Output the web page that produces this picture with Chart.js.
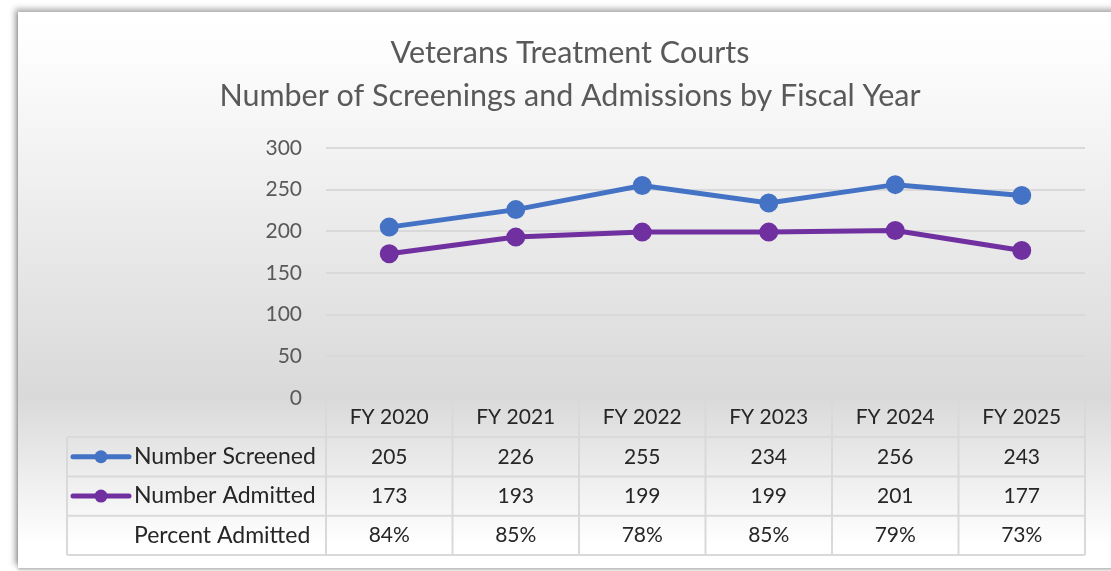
<!DOCTYPE html>
<html>
<head>
<meta charset="utf-8">
<script src="https://cdn.jsdelivr.net/npm/chart.js@4.4.1/dist/chart.umd.min.js"></script>
<style>
  html, body { margin: 0; padding: 0; background: #ffffff; overflow: hidden; }
  body { width: 1111px; height: 571px; position: relative; }
  #frame {
    position: absolute; left: 18px; top: 12px; width: 1110px; height: 556px;
    box-shadow: -3px -3px 6px rgba(0,0,0,0.35), 0 2px 3px rgba(0,0,0,0.25);
  }
  canvas { display: block; }
</style>
</head>
<body>
<div id="frame"><canvas id="chart" width="1110" height="556"></canvas></div>
<script>
// fiscal years along the x axis
const categories = ['FY 2020', 'FY 2021', 'FY 2022', 'FY 2023', 'FY 2024', 'FY 2025'];
const screened = [205, 226, 255, 234, 256, 243];
const admitted = [173, 193, 199, 199, 201, 177];
const percentAdmitted = [84, 85, 78, 85, 79, 73];
const yTicks = [0, 50, 100, 150, 200, 250, 300];

const FONT = 'Lato, "Open Sans", sans-serif';
const BLUE = '#4472C4';
const PURPLE = '#7030A0';
const GRID = '#d9d9d9';

// gradient background of the chart box
const backgroundPlugin = {
  id: 'bg',
  beforeDraw(chart) {
    const ctx = chart.ctx;
    const h = chart.height;
    const g = ctx.createLinearGradient(0, 0, 0, h);
    g.addColorStop(0, '#ffffff');
    g.addColorStop(0.07, '#fdfdfd');
    g.addColorStop(0.69, '#d9d9d9');
    g.addColorStop(0.96, '#ffffff');
    g.addColorStop(1, '#ffffff');
    ctx.save();
    ctx.fillStyle = g;
    ctx.fillRect(0, 0, chart.width, h);
    ctx.restore();
  }
};

// data table under the plot (Excel style)
const dataTablePlugin = {
  id: 'dataTable',
  afterDraw(chart) {
    const ctx = chart.ctx;
    const x = chart.scales.x;
    const area = chart.chartArea;
    const colW = (area.right - area.left) / categories.length;
    const rowH = 39.3;
    const top = area.bottom;
    const legendLeft = 49;
    const rows = [
      { label: 'Number Screened', color: BLUE, values: screened.map(String) },
      { label: 'Number Admitted', color: PURPLE, values: admitted.map(String) },
      { label: 'Percent Admitted', color: null, values: percentAdmitted.map(v => v + '%') }
    ];

    ctx.save();
    ctx.strokeStyle = GRID;
    ctx.lineWidth = 2;

    // vertical lines of header row + body
    for (let i = 0; i <= categories.length; i++) {
      const xx = area.left + i * colW;
      ctx.beginPath();
      ctx.moveTo(xx, top + 2);
      ctx.lineTo(xx, top + rowH * 4);
      ctx.stroke();
    }
    // horizontal lines of body
    for (let r = 1; r <= 4; r++) {
      const yy = top + rowH * r;
      ctx.beginPath();
      ctx.moveTo(legendLeft, yy);
      ctx.lineTo(area.right, yy);
      ctx.stroke();
    }
    ctx.beginPath();
    ctx.moveTo(legendLeft, top + rowH);
    ctx.lineTo(legendLeft, top + rowH * 4);
    ctx.stroke();

    ctx.textBaseline = 'middle';
    rows.forEach((row, r) => {
      const cy = top + rowH * (r + 1.5);
      if (row.color) {
        ctx.strokeStyle = row.color;
        ctx.fillStyle = row.color;
        ctx.lineWidth = 5;
        ctx.lineCap = 'round';
        ctx.beginPath();
        ctx.moveTo(legendLeft + 6, cy);
        ctx.lineTo(legendLeft + 62, cy);
        ctx.stroke();
        ctx.beginPath();
        ctx.arc(legendLeft + 34, cy, 6.5, 0, Math.PI * 2);
        ctx.fill();
      }
      ctx.fillStyle = '#262626';
      ctx.textAlign = 'left';
      ctx.font = '23px ' + FONT;
      ctx.fillText(row.label, legendLeft + 67, cy);
      ctx.textAlign = 'center';
      ctx.font = '21px ' + FONT;
      row.values.forEach((v, i) => {
        ctx.fillText(v, x.getPixelForValue(i), cy);
      });
    });
    ctx.restore();
  }
};

new Chart(document.getElementById('chart'), {
  type: 'line',
  data: {
    labels: categories,
    datasets: [
      {
        label: 'Number Screened',
        data: screened,
        borderColor: BLUE,
        backgroundColor: BLUE,
        borderWidth: 5,
        pointRadius: 7,
        pointHoverRadius: 7,
        tension: 0
      },
      {
        label: 'Number Admitted',
        data: admitted,
        borderColor: PURPLE,
        backgroundColor: PURPLE,
        borderWidth: 5,
        pointRadius: 7,
        pointHoverRadius: 7,
        tension: 0
      }
    ]
  },
  options: {
    responsive: false,
    animation: false,
    layout: { padding: { left: 0, right: 6, top: 0, bottom: 131 } },
    plugins: {
      legend: { display: false },
      tooltip: { enabled: false },
      title: {
        display: true,
        text: ['Veterans Treatment Courts', 'Number of Screenings and Admissions by Fiscal Year'],
        color: '#595959',
        font: { family: FONT, size: 30.5, weight: 'normal', lineHeight: 1.41 },
        padding: { top: 20, bottom: 30 }
      }
    },
    scales: {
      x: {
        offset: true,
        grid: { display: false, drawTicks: false },
        border: { display: false },
        ticks: {
          color: '#262626',
          padding: 7,
          font: { family: FONT, size: 21 }
        }
      },
      y: {
        min: 0,
        max: 300,
        afterBuildTicks(scale) {
          scale.ticks = yTicks.map(v => ({ value: v }));
        },
        afterFit(scale) { scale.width = 308; },
        grid: { color: GRID, lineWidth: 2, drawTicks: false },
        border: { display: false },
        ticks: {
          color: '#595959',
          padding: 24,
          font: { family: FONT, size: 21 }
        }
      },
      // empty right-hand spacer so the plot ends where the reference does
      yRight: {
        position: 'right',
        min: 0,
        max: 300,
        grid: { display: false, drawTicks: false },
        border: { display: false },
        ticks: { display: false },
        afterFit(scale) { scale.width = 37; }
      }
    }
  },
  plugins: [backgroundPlugin, dataTablePlugin]
});
</script>
</body>
</html>
